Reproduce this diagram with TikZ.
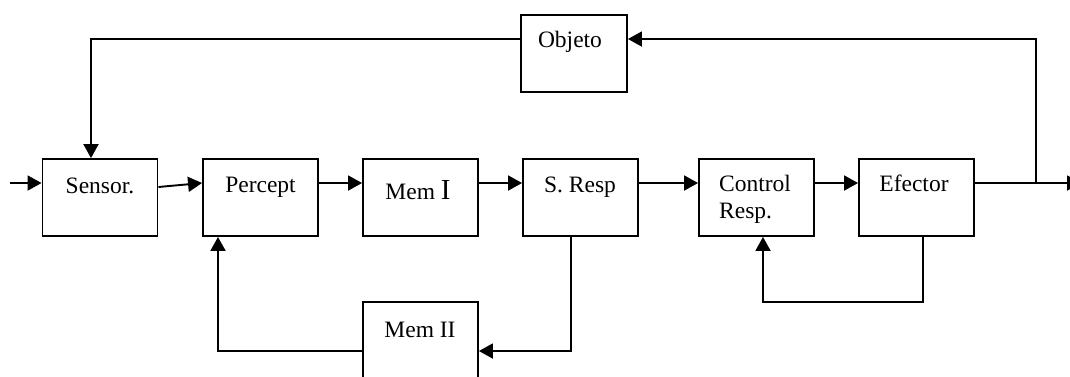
\documentclass[tikz,border=0pt]{standalone}
\usepackage{fontspec}
\setmainfont{Liberation Serif}
\usetikzlibrary{arrows.meta}
\begin{document}
\begin{tikzpicture}[x=1pt,y=-1pt,
  box/.style={draw,line width=1.9pt,minimum width=115pt,minimum height=77pt,inner sep=0pt},
  lbl/.style={anchor=base,inner sep=0pt,font=\fontsize{23.5}{28}\selectfont},
  wire/.style={line width=1.9pt},
  arr/.style={wire,-{Triangle[length=14pt,width=15pt]}}]
\useasboundingbox (0,0) rectangle (1070,376);

% blocks
\node[box] (sensor)  at (100,197.5) {};
\node[box] (percept) at (260.5,197.5) {};
\node[box] (mem1)    at (420.5,197.5) {};
\node[box] (sresp)   at (580.5,197.5) {};
\node[box] (ctrl)    at (756.5,197.5) {};
\node[box] (efector) at (916.5,197.5) {};
\node[box,minimum width=106pt] (objeto) at (574,53.5) {};
\node[box] (mem2)    at (420.5,340.5) {};

% labels
\node[lbl] (t-sensor)  at (100,193) {Sensor.};
\node[lbl] (t-percept) at (260.5,192) {Percept};
\node[lbl] (t-mem1)    at (418,199) {Mem {\fontsize{29}{32}\selectfont I}};
\node[lbl] (t-sresp)   at (580,192) {S. Resp};
\node[lbl,anchor=base west] (t-ctrl1) at (719,191) {Control};
\node[lbl,anchor=base west] (t-ctrl2) at (719,218) {Resp.};
\node[lbl] (t-efector) at (914,191) {Efector};
\node[lbl] (t-objeto)  at (570,47) {Objeto};
\node[lbl] (t-mem2)    at (420,337) {Mem II};

% reference levels and turning points
\coordinate (mainy) at (0,183);
\coordinate (objy)  at (0,39);
\coordinate (m2y)   at (0,351);
\coordinate (loopy) at (0,302);
\coordinate (in)    at (10,183);
\coordinate (out)   at (1081,183);
\coordinate (junc)  at (1036,183);
\coordinate (sx)    at (91,0);
\coordinate (rx)    at (571,0);
\coordinate (px)    at (218,0);
\coordinate (ex)    at (923,0);
\coordinate (cx)    at (763,0);

% forward chain
\draw[arr] (in) -- (sensor.west |- mainy);
\draw[arr] ([yshift=10.5pt]sensor.east) -- (percept.west |- mainy);
\draw[arr] (percept.east |- mainy) -- (mem1.west |- mainy);
\draw[arr] (mem1.east |- mainy) -- (sresp.west |- mainy);
\draw[arr] (sresp.east |- mainy) -- (ctrl.west |- mainy);
\draw[arr] (ctrl.east |- mainy) -- (efector.west |- mainy);
\draw[arr] (efector.east |- mainy) -- (out);

% outer loop through the object
\draw[arr] (junc) |- (objeto.east |- objy);
\draw[arr] (objeto.west |- objy) -| (sensor.north -| sx);

% memory loop
\draw[arr] (sresp.south -| rx) |- (mem2.east |- m2y);
\draw[arr] (mem2.west |- m2y) -| (percept.south -| px);

% effector feedback
\draw[arr] (efector.south -| ex) |- (cx |- loopy) -- (ctrl.south -| cx);
\end{tikzpicture}
\end{document}
